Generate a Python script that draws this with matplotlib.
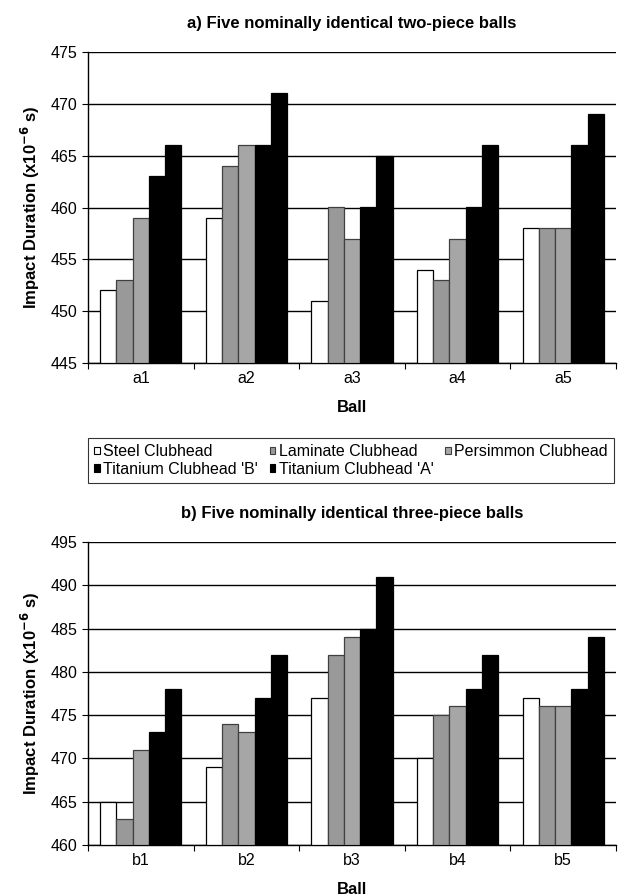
import numpy as np
import matplotlib.pyplot as plt
from matplotlib.patches import Rectangle

plt.rcParams['font.family'] = ['Liberation Sans', 'DejaVu Sans']

# impact durations (x10^-6 s)
series = ['Steel Clubhead', 'Laminate Clubhead', 'Persimmon Clubhead',
          "Titanium Clubhead 'B'", "Titanium Clubhead 'A'"]
balls_a = ['a1', 'a2', 'a3', 'a4', 'a5']
steel_a = [452, 459, 451, 454, 458]
laminate_a = [453, 464, 460, 453, 458]
persimmon_a = [459, 466, 457, 457, 458]
titanium_b_a = [463, 466, 460, 460, 466]
titanium_a_a = [466, 471, 465, 466, 469]

balls_b = ['b1', 'b2', 'b3', 'b4', 'b5']
steel_b = [465, 469, 477, 470, 477]
laminate_b = [463, 474, 482, 475, 476]
persimmon_b = [471, 473, 484, 476, 476]
titanium_b_b = [473, 477, 485, 478, 478]
titanium_a_b = [478, 482, 491, 482, 484]

faces = ['#ffffff', '#999999', '#a6a6a6', '#000000', '#000000']
edges = ['#000000', '#404040', '#404040', '#000000', '#000000']

fig = plt.figure(figsize=(6.23, 8.96), dpi=100)
ax1 = fig.add_axes([88/623, 1-363/896, 528/623, 311/896])
ax2 = fig.add_axes([88/623, 1-845/896, 528/623, 303/896])


def draw(ax, cats, data, ylo, yhi, title):
    x = np.arange(len(cats))
    w = 1/6.5
    for i, vals in enumerate(data):
        ax.bar(x + (i - 2)*w, np.array(vals) - ylo, w, bottom=ylo,
               color=faces[i], edgecolor=edges[i], linewidth=0.9, zorder=3)
    ax.set_xlim(-0.5, len(cats) - 0.5)
    ax.set_ylim(ylo, yhi)
    ax.set_yticks(np.arange(ylo, yhi + 1, 5))
    ax.yaxis.grid(True, color='black', linewidth=1.0, zorder=0)
    ax.set_axisbelow(True)
    ax.set_xticks(np.arange(len(cats) + 1) - 0.5)
    ax.set_xticklabels([])
    ax.set_xticks(x, minor=True)
    ax.set_xticklabels(cats, minor=True)
    ax.tick_params(axis='x', which='major', length=4, direction='out', width=0.8)
    ax.tick_params(axis='x', which='minor', length=0, pad=6, labelsize=11.5)
    ax.tick_params(axis='y', length=4, direction='out', labelsize=11.5, width=0.8)
    for s in ['top', 'right']:
        ax.spines[s].set_visible(False)
    ax.spines['left'].set_linewidth(1.0)
    ax.spines['bottom'].set_linewidth(1.0)
    ax.set_xlabel('Ball', fontsize=12, fontweight='bold', labelpad=10)
    ax.set_ylabel('Impact Duration (x10$^{\\mathbf{-6}}$ s)', fontsize=12,
                  fontweight='bold', labelpad=6)
    ax.set_title(title, fontsize=12, fontweight='bold', pad=17)


draw(ax1, balls_a, [steel_a, laminate_a, persimmon_a, titanium_b_a, titanium_a_a],
     445, 475, 'a) Five nominally identical two-piece balls')
draw(ax2, balls_b, [steel_b, laminate_b, persimmon_b, titanium_b_b, titanium_a_b],
     460, 495, 'b) Five nominally identical three-piece balls')

# legend between the panels, filled row by row
handles = [Rectangle((0, 0), 1, 1, facecolor=faces[i], edgecolor=edges[i], linewidth=0.8)
           for i in range(5)]
order = [0, 3, 1, 4, 2]
leg = fig.legend([handles[i] for i in order], [series[i] for i in order],
                 ncol=3, loc='upper left', bbox_to_anchor=(88/623, 1-438/896),
                 fontsize=11.5, frameon=True, fancybox=False,
                 handlelength=0.35, handleheight=0.35, handletextpad=0.2,
                 columnspacing=0.75, labelspacing=0.15, borderpad=0.4,
                 borderaxespad=0)
leg.get_frame().set_edgecolor('black')
leg.get_frame().set_linewidth(0.8)

fig.savefig('out.png', dpi=100)
